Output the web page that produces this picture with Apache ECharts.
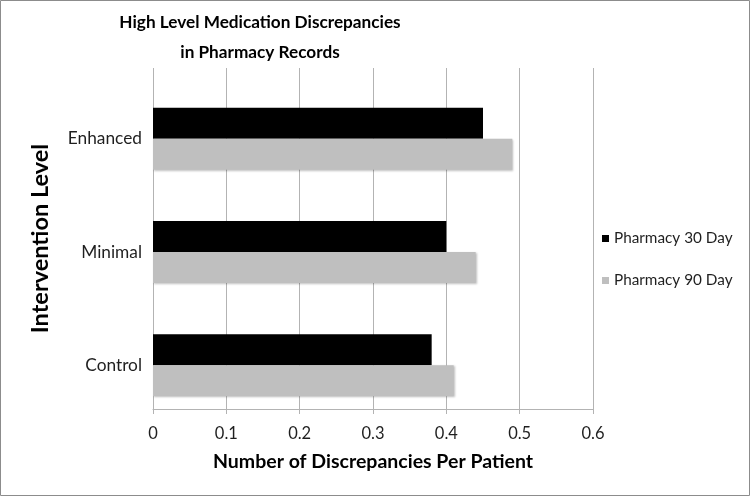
<!DOCTYPE html>
<html><head><meta charset="utf-8">
<script src="https://cdn.jsdelivr.net/npm/echarts@6/dist/echarts.min.js"></script>
<style>html,body{margin:0;padding:0;background:#fff}#c{width:750px;height:496px}</style>
</head><body><div id="c"></div>
<script>
const categories = ['Control', 'Minimal', 'Enhanced'];
const pharmacy30 = [0.38, 0.40, 0.45];
const pharmacy90 = [0.41, 0.44, 0.49];
const seriesNames = ['Pharmacy 30 Day', 'Pharmacy 90 Day'];
const xMin = 0, xMax = 0.6, xInterval = 0.1;

const FONT = 'Lato';
const txt = '#1f1f1f';
const gridCol = '#b3b3b3';
const chart = echarts.init(document.getElementById('c'));
chart.setOption({
  animation: false,
  textStyle: { fontFamily: FONT },
  title: {
    text: 'High Level Medication Discrepancies\nin Pharmacy Records',
    left: 260, top: 7, padding: 0, textAlign: 'center',
    textStyle: { fontFamily: FONT, fontWeight: 'bold', fontSize: 17.2, lineHeight: 30, color: '#000' }
  },
  legend: {
    orient: 'vertical', left: 602, top: 231, padding: 0,
    itemWidth: 7, itemHeight: 7, itemGap: 27, icon: 'rect',
    textStyle: { fontFamily: FONT, fontSize: 15.3, color: txt },
    data: seriesNames
  },
  graphic: [{
    type: 'rect', silent: true, z: 100,
    shape: { x: 0.5, y: 0.5, width: 749, height: 495 },
    style: { fill: 'none', stroke: '#8c8c8c', lineWidth: 1 }
  }],
  grid: [
    { left: 153, right: 157, top: 68, bottom: 87 },
    { left: 153, right: 157, top: 82, bottom: 74 }
  ],
  xAxis: [
    {
      gridIndex: 0, type: 'value', min: xMin, max: xMax, interval: xInterval,
      axisLine: { show: true, lineStyle: { color: gridCol } },
      axisTick: { show: true, length: 5, lineStyle: { color: gridCol } },
      splitLine: { show: true, lineStyle: { color: gridCol } },
      axisLabel: { fontSize: 16.5, color: txt, margin: 16, formatter: v => String(Math.round(v * 10) / 10) },
      name: 'Number of Discrepancies Per Patient', nameLocation: 'middle', nameGap: 43,
      nameTextStyle: { fontFamily: FONT, fontWeight: 'bold', fontSize: 19.5, color: '#000' }
    },
    { gridIndex: 1, type: 'value', min: xMin, max: xMax, interval: xInterval, show: false, splitLine: { show: false } }
  ],
  yAxis: [
    {
      gridIndex: 0, type: 'category', data: categories,
      axisLine: { show: false }, axisTick: { show: false }, axisLabel: { show: false },
      name: 'Intervention Level', nameLocation: 'middle', nameGap: 101, nameRotate: 90,
      nameTextStyle: { fontFamily: FONT, fontWeight: 'bold', fontSize: 23.5, color: '#000' }
    },
    {
      gridIndex: 1, type: 'category', data: categories,
      axisLine: { show: false }, axisTick: { show: false },
      axisLabel: { fontSize: 17.3, color: txt, margin: 11 }
    }
  ],
  series: [
    { name: seriesNames[0], type: 'bar', xAxisIndex: 1, yAxisIndex: 1, data: pharmacy30, barWidth: 31, barGap: '0%',
      itemStyle: { color: '#000000' } },
    { name: seriesNames[1], type: 'bar', xAxisIndex: 1, yAxisIndex: 1, data: pharmacy90, barWidth: 31, barGap: '0%',
      itemStyle: { color: '#bfbfbf', shadowColor: 'rgba(0,0,0,0.25)', shadowBlur: 2, shadowOffsetX: 1, shadowOffsetY: 1 } }
  ]
});
</script></body></html>
